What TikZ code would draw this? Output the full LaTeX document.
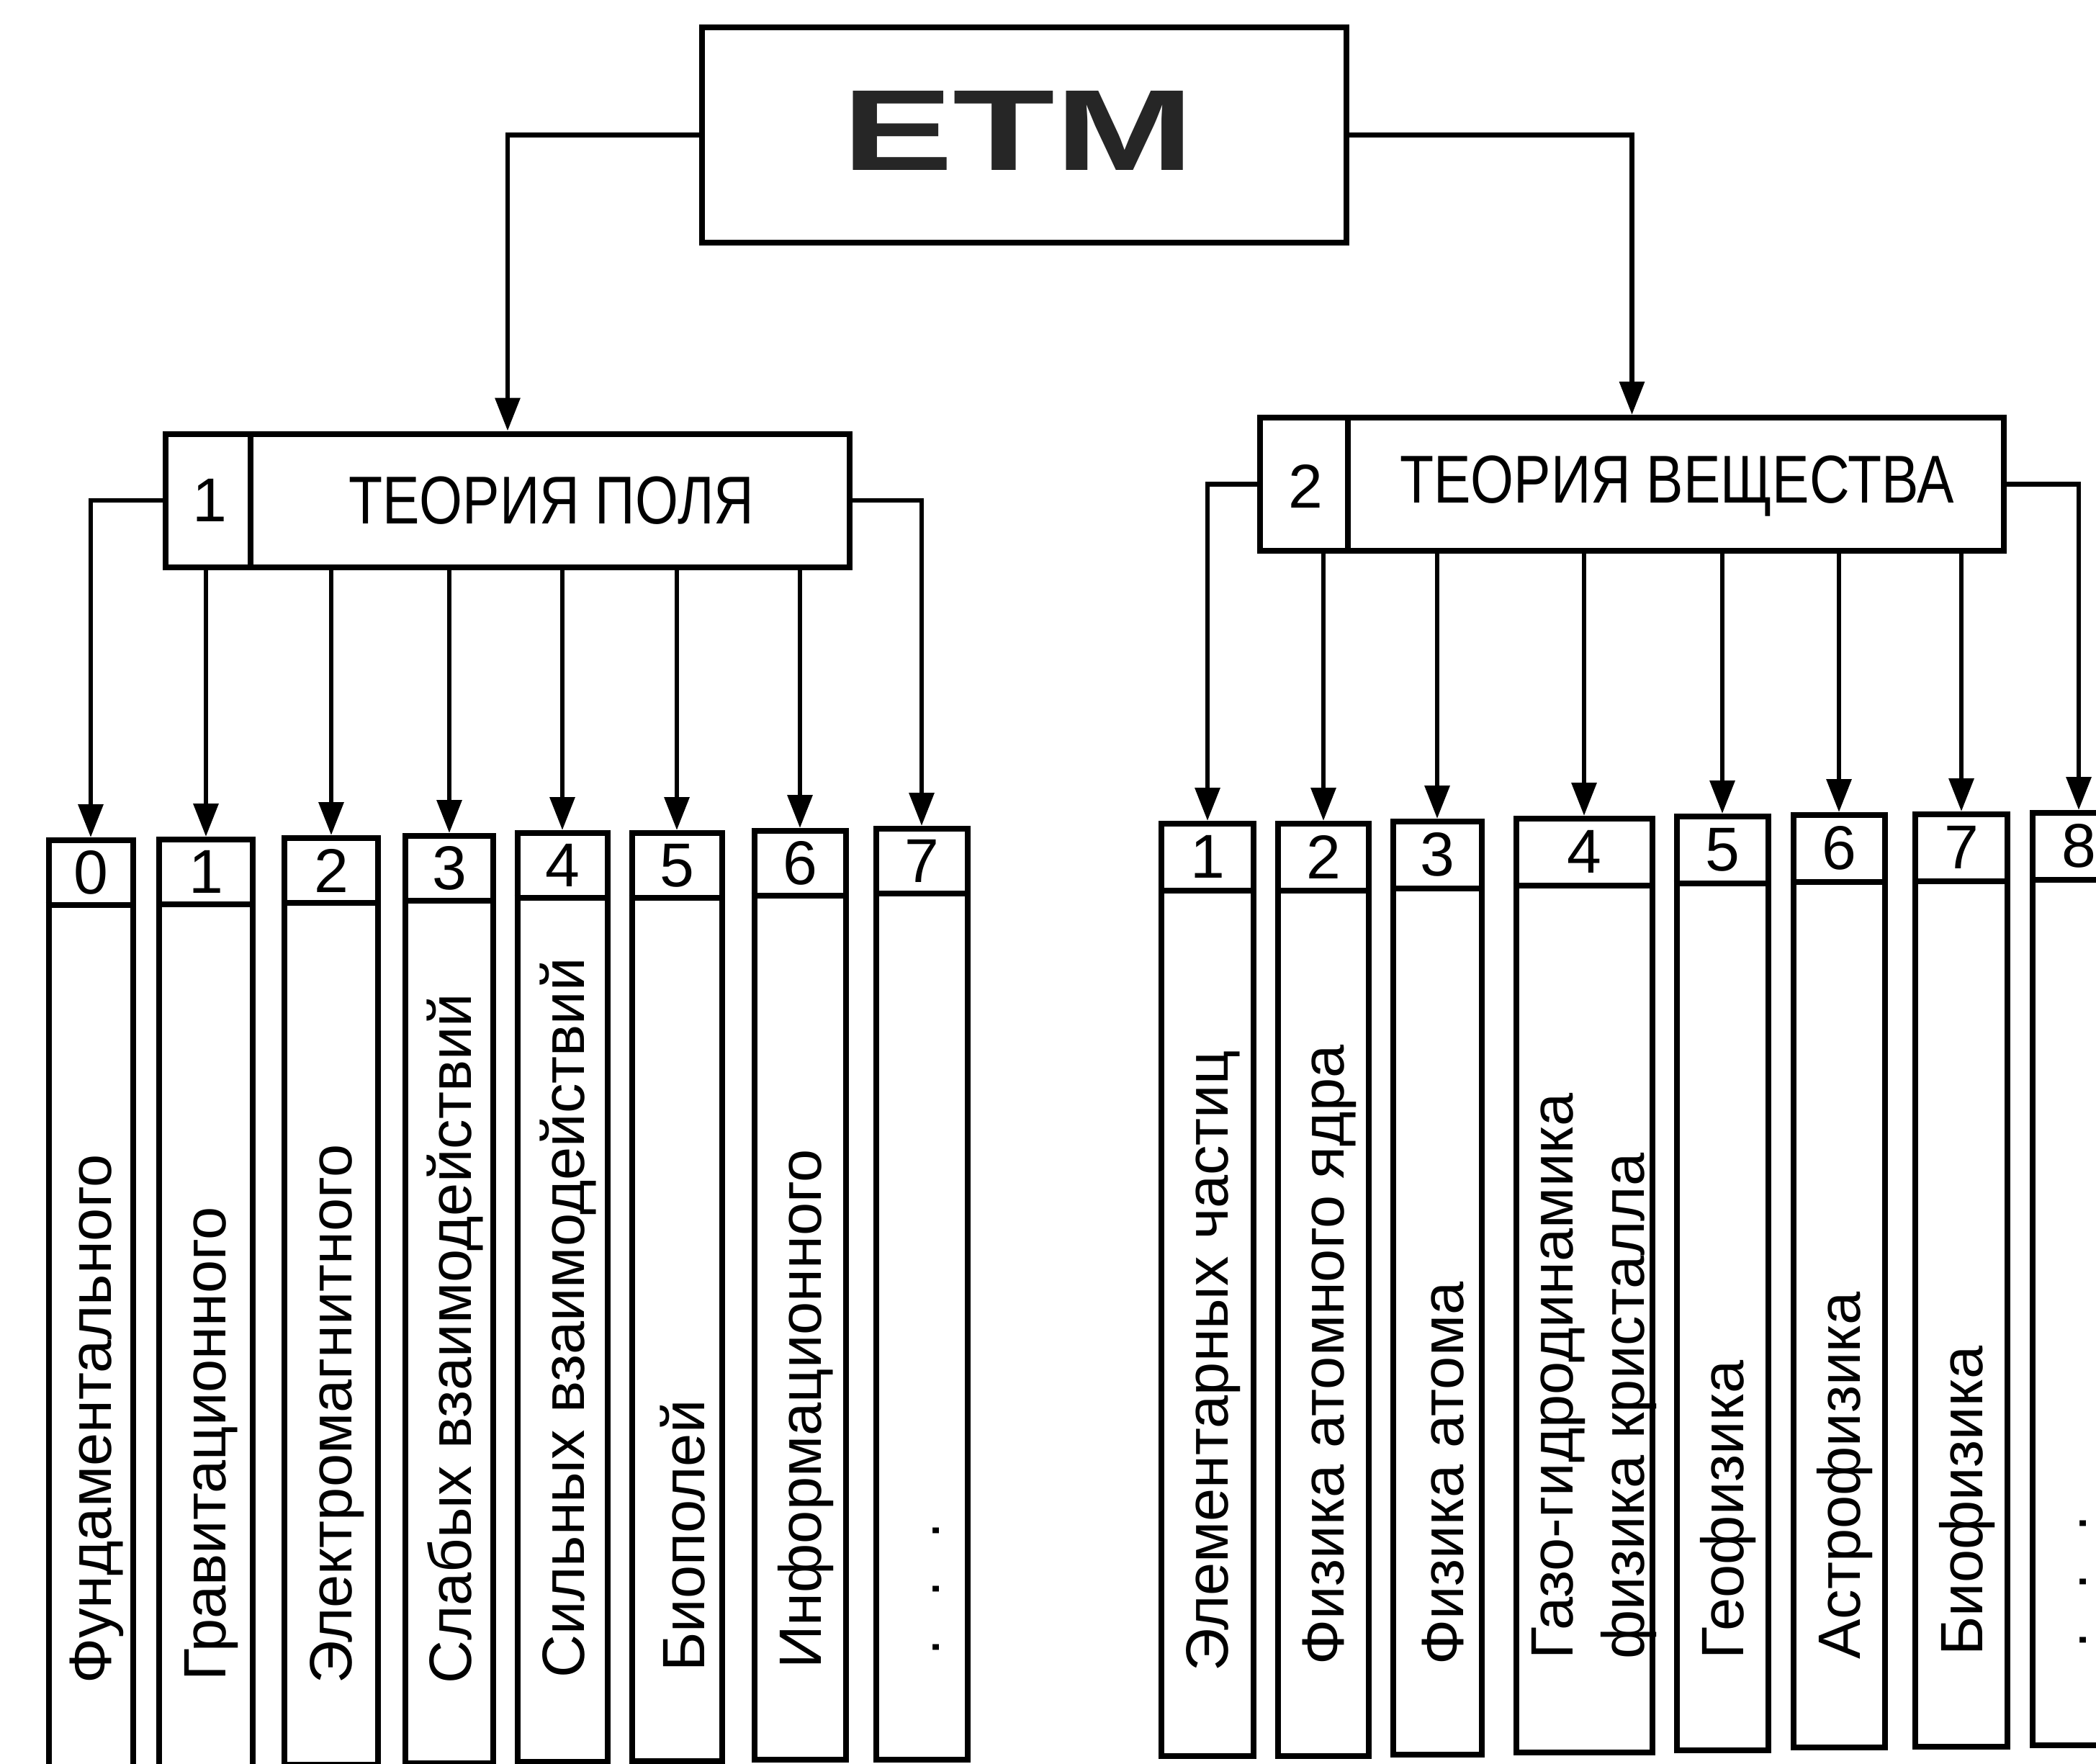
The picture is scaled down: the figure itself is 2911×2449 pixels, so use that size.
\documentclass[tikz,border=0pt]{standalone}
\usepackage{fontspec}
\setmainfont{Liberation Sans}
\newfontfamily\headfont{Liberation Sans}[FakeStretch=0.82]
\usetikzlibrary{arrows.meta}
\begin{document}
\begin{tikzpicture}[x=1pt,y=-1pt,
  box/.style={draw, line width=8pt, inner sep=0pt},
  boxline/.style={line width=8pt},
  conn/.style={line width=6.5pt, -{Triangle[length=46pt,width=34pt]}},
  lbl/.style={rotate=90, anchor=west, inner sep=0pt, font=\fontsize{83}{83}\selectfont},
  num/.style={inner sep=0pt, font=\fontsize{86}{86}\selectfont},
  head/.style={inner sep=0pt, font=\headfont\fontsize{94}{94}\selectfont},
]
\useasboundingbox (0,0) rectangle (2911,2449);
\clip (0,0) rectangle (2911,2449);

% top box
\node[box, minimum width=895pt, minimum height=299pt] (etm) at (1422,187.5) {};
\node[inner sep=0pt, text=black!85, font=\fontsize{160}{160}\selectfont\bfseries] (etmt) at (1414,181) {\scalebox{1.45}[1]{ЕТМ}};

% second level
\node[box, minimum width=950pt, minimum height=185pt] (p1) at (705,695) {};
\draw[boxline] ([xshift=122pt]p1.north west) -- ([xshift=122pt]p1.south west);
\node[num] (p1n) at (291,695) {1};
\node[head] (p1t) at (766,695) {ТЕОРИЯ ПОЛЯ};

\node[box, minimum width=1033pt, minimum height=185pt] (p2) at (2266.5,672.5) {};
\draw[boxline] ([xshift=126pt]p2.north west) -- ([xshift=126pt]p2.south west);
\node[num] (p2n) at (1813,675) {2};
\node[head] (p2t) at (2329,675) {ТЕОРИЯ ВЕЩЕСТВА};

\draw[conn] (etm.west) -| (p1.north);
\draw[conn] (etm.east) -| (p2.north);

% left children
\foreach \n/\x/\w/\t/\b/\d in {c0/126/117/1163/2452/0, c1/286/130/1162/2450/1,
  c2/460/130/1160/2447/2, c3/624/122/1157/2445/3, c4/781/125/1153/2443/4,
  c5/940/125/1153/2442/5, c6/1111/127/1150/2440/6, c7/1280/127/1147/2440/7}{
  \node[box, anchor=north, minimum width=\w pt, minimum height={(\b-\t)*1pt}] (\n) at (\x,\t) {};
  \draw[boxline] ([yshift=-94pt]\n.north west) -- ([yshift=-94pt]\n.north east);
  \node[num] (\n d) at ([yshift=-49pt]\n.north) {\d};
}
% right children
\foreach \n/\x/\w/\t/\b/\d in {r1/1677/128/1140/2435/1, r2/1838/126/1140/2435/2,
  r3/1996/123/1137/2433/3, r4/2200/189/1133/2430/4, r5/2392/127/1130/2427/5,
  r6/2554/127/1128/2423/6, r7/2724/128/1127/2422/7, r8/2887/128/1125/2420/8}{
  \node[box, anchor=north, minimum width=\w pt, minimum height={(\b-\t)*1pt}] (\n) at (\x,\t) {};
  \draw[boxline] ([yshift=-97pt]\n.north west) -- ([yshift=-97pt]\n.north east);
  \node[num] (\n d) at ([yshift=-50pt]\n.north) {\d};
}

% connectors from field theory
\draw[conn] (p1.west) -| (c0.north);
\draw[conn] (p1.east) -| (c7.north);
\foreach \n in {c1,c2,c3,c4,c5,c6}{
  \draw[conn] (p1.south -| \n.north) -- (\n.north);
}
% connectors from matter theory
\draw[conn] (p2.west) -| (r1.north);
\draw[conn] (p2.east) -| (r8.north);
\foreach \n in {r2,r3,r4,r5,r6,r7}{
  \draw[conn] (p2.south -| \n.north) -- (\n.north);
}

% vertical labels, left
\node[lbl] (l0) at (134,2339) {Фундаментального};
\node[lbl] (l1) at (294,2335) {Гравитационного};
\node[lbl] (l2) at (468,2339) {Электромагнитного};
\node[lbl] (l3) at (632,2339) {Слабых взаимодействий};
\node[lbl] (l4) at (789,2331) {Сильных взаимодействий};
\node[lbl] (l5) at (948,2322) {Биополей};
\node[lbl] (l6) at (1119,2318) {Информационного};
\node[lbl] (l7) at (1300,2300) {.\hspace{58pt}.\hspace{58pt}.};

% vertical labels, right
\node[lbl] (m1) at (1685,2322) {Элементарных частиц};
\node[lbl] (m2) at (1846,2313) {Физика атомного ядра};
\node[lbl] (m3) at (2004,2313) {Физика атома};
\node[lbl] (m4a) at (2165,2305) {Газо-гидродинамика};
\node[lbl] (m4b) at (2262,2305) {физика кристалла};
\node[lbl] (m5) at (2400,2305) {Геофизика};
\node[lbl] (m6) at (2562,2305) {Астрофизика};
\node[lbl] (m7) at (2732,2300) {Биофизика};
\node[lbl] (m8) at (2893,2290) {.\hspace{58pt}.\hspace{58pt}.};
\end{tikzpicture}
\end{document}
